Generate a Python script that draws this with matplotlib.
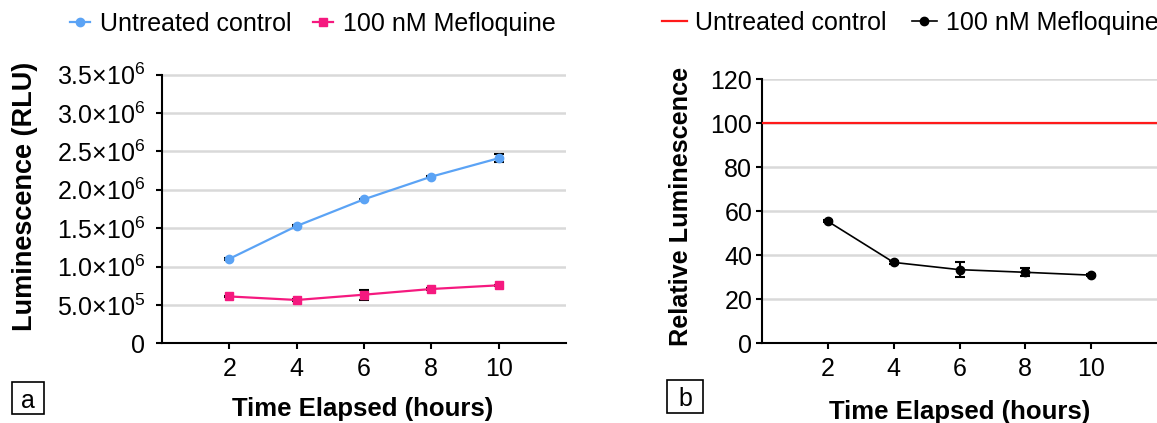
import matplotlib
matplotlib.use("Agg")
import matplotlib.pyplot as plt
from matplotlib.patches import Rectangle

plt.rcParams['font.family'] = ['Liberation Sans', 'DejaVu Sans']
plt.rcParams['mathtext.fontset'] = 'custom'
plt.rcParams['mathtext.rm'] = 'Liberation Sans'
plt.rcParams['mathtext.it'] = 'Liberation Sans:italic'
plt.rcParams['mathtext.bf'] = 'Liberation Sans:bold'

# ---- data ----
hours = [2, 4, 6, 8, 10]
untreated_rlu = [1.10e6, 1.527e6, 1.875e6, 2.17e6, 2.41e6]
untreated_rlu_err = [0.01e6, 0.01e6, 0.01e6, 0.01e6, 0.05e6]
meflo_rlu = [0.61e6, 0.564e6, 0.633e6, 0.707e6, 0.755e6]
meflo_rlu_err = [0.01e6, 0.01e6, 0.065e6, 0.01e6, 0.01e6]

relative_control = 100
meflo_rel = [55.5, 36.8, 33.5, 32.3, 31.0]
meflo_rel_err = [0.5, 0.8, 3.4, 1.9, 0.5]

yticks_a = [0, 0.5e6, 1.0e6, 1.5e6, 2.0e6, 2.5e6, 3.0e6, 3.5e6]
yticklabels_a = ['0', '5.0×10$^{5}$', '1.0×10$^{6}$', '1.5×10$^{6}$', '2.0×10$^{6}$',
                 '2.5×10$^{6}$', '3.0×10$^{6}$', '3.5×10$^{6}$']
yticks_b = [0, 20, 40, 60, 80, 100, 120]

BLUE = '#5ba3f5'
PINK = '#f5197f'
GRID = '#d9d9d9'
FS = 18

W, H = 1157, 423
fig = plt.figure(figsize=(W / 100, H / 100), dpi=100)

def frac(l, t, r, b):
    return [l / W, 1 - b / H, (r - l) / W, (b - t) / H]

axa = fig.add_axes(frac(162, 74.5, 566, 343.3))
axb = fig.add_axes(frac(762, 79.5, 1157, 343.3))

def style(ax):
    for s in ['top', 'right']:
        ax.spines[s].set_visible(False)
    for s in ['left', 'bottom']:
        ax.spines[s].set_linewidth(1.5)
        ax.spines[s].set_color('black')
    ax.tick_params(axis='both', direction='out', length=4, width=1.5, labelsize=FS, colors='black')
    ax.tick_params(axis='x', pad=6)
    ax.grid(axis='y', color=GRID, linewidth=1.8, zorder=0)
    ax.set_axisbelow(True)
    ax.set_xlim(0, 12)
    ax.set_xticks(hours)

# Panel a
style(axa)
axa.set_ylim(0, 3.5e6)
axa.set_yticks(yticks_a)
axa.set_yticklabels(yticklabels_a)
axa.tick_params(axis='y', pad=8)
l1 = axa.errorbar(hours, untreated_rlu, yerr=untreated_rlu_err, color=BLUE, marker='o', markersize=6,
                  linewidth=1.6, ecolor='black', elinewidth=1.5, capsize=3.5, capthick=1.5,
                  label='Untreated control', zorder=3)
l2 = axa.errorbar(hours, meflo_rlu, yerr=meflo_rlu_err, color=PINK, marker='s', markersize=6,
                  linewidth=1.6, ecolor='black', elinewidth=1.5, capsize=3.5, capthick=1.5,
                  label='100 nM Mefloquine', zorder=3)
for ln in (l1, l2):
    ln[0].set_zorder(4)
axa.set_ylabel('Luminescence (RLU)', fontsize=19.5, fontweight='bold')
axa.yaxis.set_label_coords(-0.306, 0.545)
axa.set_xlabel('Time Elapsed (hours)', fontsize=18.5, fontweight='bold')
axa.xaxis.set_label_coords(0.497, -0.20)
axa.legend(handles=[l1[0], l2[0]], labels=['Untreated control', '100 nM Mefloquine'],
           loc='center', bbox_to_anchor=(313 / W, 1 - 24 / H), bbox_transform=fig.transFigure,
           ncol=2, frameon=False, fontsize=FS, handlelength=0.8, handletextpad=0.4,
           columnspacing=0.85, borderpad=0, borderaxespad=0)

# Panel b
style(axb)
axb.set_ylim(0, 120)
axb.set_yticks(yticks_b)
axb.tick_params(axis='y', pad=3)
lr = axb.axhline(relative_control, color='#ff1a1a', linewidth=1.6, zorder=3, label='Untreated control')
lb = axb.errorbar(hours, meflo_rel, yerr=meflo_rel_err, color='black', marker='o', markersize=6,
                  linewidth=1.2, ecolor='black', elinewidth=1.5, capsize=3.5, capthick=1.5,
                  label='100 nM Mefloquine', zorder=3)
axb.set_ylabel('Relative Luminescence', fontsize=18.2, fontweight='bold')
axb.yaxis.set_label_coords(-0.175, 0.519)
axb.set_xlabel('Time Elapsed (hours)', fontsize=18.5, fontweight='bold')
axb.xaxis.set_label_coords(0.5, -0.215)
axb.legend(handles=[lr, lb[0]], labels=['Untreated control', '100 nM Mefloquine'],
           loc='center', bbox_to_anchor=(910 / W, 1 - 23 / H), bbox_transform=fig.transFigure,
           ncol=2, frameon=False, fontsize=FS, handlelength=1.0, handletextpad=0.35,
           columnspacing=1.0, borderpad=0, borderaxespad=0)

# Panel letters
def letter_box(l, t, r, b, s):
    fig.patches.append(Rectangle((l / W, 1 - b / H), (r - l) / W, (b - t) / H,
                                 transform=fig.transFigure, facecolor='white',
                                 edgecolor='black', linewidth=1.2))
    fig.text((l + r) / 2 / W, 1 - (t + b) / 2 / H, s, fontsize=18, ha='center', va='center_baseline')

letter_box(12, 382, 44, 414, 'a')
letter_box(667, 380, 703, 413, 'b')

fig.savefig('out.png', dpi=100)
